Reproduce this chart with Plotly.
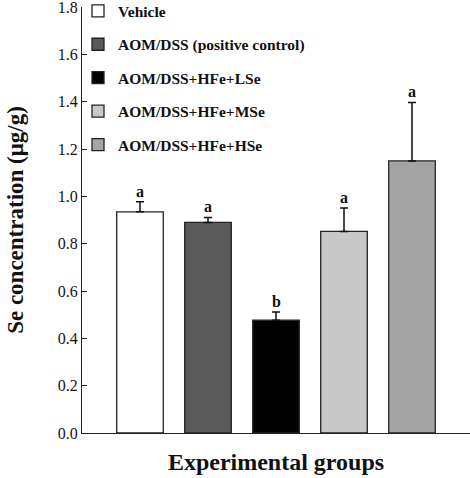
import plotly.graph_objects as go

groups = ["Vehicle", "AOM/DSS (positive control)", "AOM/DSS+HFe+LSe",
          "AOM/DSS+HFe+MSe", "AOM/DSS+HFe+HSe"]
means = [0.935, 0.890, 0.477, 0.852, 1.150]
errors = [0.042, 0.021, 0.034, 0.099, 0.247]
letters = ["a", "a", "b", "a", "a"]
colors = ["#ffffff", "#5a5a5a", "#000000", "#c8c8c8", "#a4a4a4"]
y_ticks = [0.0, 0.2, 0.4, 0.6, 0.8, 1.0, 1.2, 1.4, 1.6, 1.8]

SERIF = "Liberation Serif, Times New Roman, serif"

fig = go.Figure()
for i, (g, m, e, c) in enumerate(zip(groups, means, errors, colors)):
    fig.add_trace(go.Bar(
        x=[i], y=[m], name=g, width=0.685,
        marker=dict(color=c, line=dict(color="#222222", width=1.3)),
        error_y=dict(type="data", symmetric=False, array=[e], arrayminus=[0],
                     color="#111111", thickness=1.5, width=4),
        legendgroup=g,
    ))
    fig.add_annotation(x=i, y=m + e, text="<b>%s</b>" % letters[i], showarrow=False,
                       yanchor="bottom", yshift=0,
                       font=dict(family=SERIF, size=16, color="#111111"))

fig.update_layout(
    width=470, height=478,
    margin=dict(l=82, r=0, t=7, b=45, autoexpand=False),
    paper_bgcolor="white", plot_bgcolor="white",
    barmode="overlay",
    font=dict(family=SERIF, color="#111111"),
    showlegend=True,
    legend=dict(x=-0.0103, y=1.03, xanchor="left", yanchor="top",
                traceorder="grouped", tracegroupgap=10.3, itemwidth=30,
                bgcolor="rgba(0,0,0,0)",
                font=dict(family=SERIF, size=15.5, color="#111111", weight="bold")),
    xaxis=dict(range=[-0.853, 4.853], showticklabels=False, ticks="",
               showline=True, linecolor="#222222", linewidth=1.3,
               showgrid=False, zeroline=False, automargin=False,
               title=dict(text="<b>Experimental groups</b>", standoff=20,
                          font=dict(family=SERIF, size=24, color="#111111"))),
    yaxis=dict(range=[0, 1.8005], tickvals=y_ticks,
               ticktext=["%.1f" % v for v in y_ticks],
               ticks="inside", ticklen=5, tickwidth=1.3, tickcolor="#222222",
               ticklabeloverflow="allow",
               showline=True, linecolor="#222222", linewidth=1.3,
               showgrid=False, zeroline=False, automargin=False,
               tickfont=dict(family=SERIF, size=16, color="#111111"),
               title=dict(text="<b>Se concentration (μg/g)</b>", standoff=27,
                          font=dict(family=SERIF, size=23, color="#111111"))),
)

fig.write_html("out.html", config={"displayModeBar": False},
               post_script="document.body.style.margin='0';")
